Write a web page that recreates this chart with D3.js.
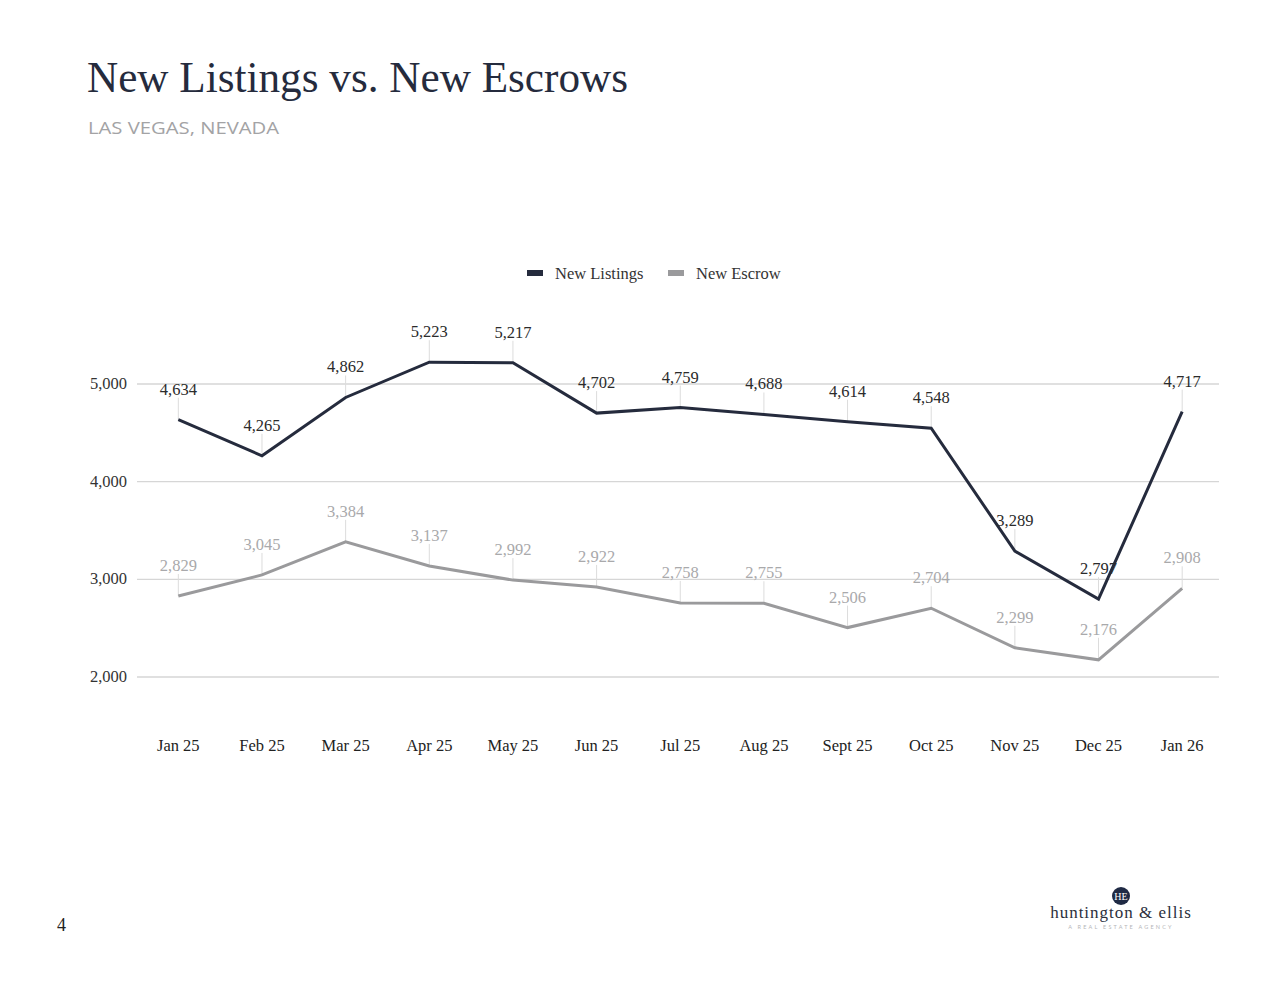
<!DOCTYPE html>
<html>
<head>
<meta charset="utf-8">
<script src="https://cdn.jsdelivr.net/npm/d3@7"></script>
<style>
  body { margin: 0; background: #fff; }
  svg { display: block; }
</style>
</head>
<body>
<div id="chart"></div>
<script>
// chart data
var months = ["Jan 25", "Feb 25", "Mar 25", "Apr 25", "May 25", "Jun 25", "Jul 25",
  "Aug 25", "Sept 25", "Oct 25", "Nov 25", "Dec 25", "Jan 26"];
var newListings = [4634, 4265, 4862, 5223, 5217, 4702, 4759, 4688, 4614, 4548, 3289, 2797, 4717];
var newEscrow = [2829, 3045, 3384, 3137, 2992, 2922, 2758, 2755, 2506, 2704, 2299, 2176, 2908];
var yTicks = [2000, 3000, 4000, 5000];

var width = 1280, height = 989;
var navy = "#252b3d", gray = "#9a9a9c";
var serif = "'Liberation Serif', 'DejaVu Serif', serif";

var svg = d3.select("#chart").append("svg")
  .attr("width", width)
  .attr("height", height);

// title
svg.append("text")
  .attr("x", 87).attr("y", 92)
  .attr("font-family", serif)
  .attr("font-size", 44)
  .attr("textLength", 541)
  .attr("lengthAdjust", "spacingAndGlyphs")
  .attr("fill", navy)
  .text("New Listings vs. New Escrows");

svg.append("text")
  .attr("x", 88).attr("y", 134)
  .attr("font-family", "'Open Sans', Lato, sans-serif")
  .attr("font-size", 17)
  .attr("textLength", 191)
  .attr("lengthAdjust", "spacingAndGlyphs")
  .attr("fill", "#a3a3a5")
  .text("LAS VEGAS, NEVADA");

// scales
var x = d3.scalePoint()
  .domain(months)
  .range([136.5, 1224])
  .padding(0.5);

var y = d3.scaleLinear()
  .domain([2000, 5000])
  .range([677, 384]);

// grid + y labels
var grid = svg.append("g");
grid.selectAll("line")
  .data(yTicks)
  .enter().append("line")
  .attr("x1", 137).attr("x2", 1219)
  .attr("y1", d => y(d)).attr("y2", d => y(d))
  .attr("stroke", "#d6d6d6")
  .attr("stroke-width", 1.3);

grid.selectAll("text")
  .data(yTicks)
  .enter().append("text")
  .attr("x", 127)
  .attr("y", d => y(d) + 5)
  .attr("text-anchor", "end")
  .attr("font-family", serif)
  .attr("font-size", 16.5)
  .attr("fill", "#333")
  .text(d => d3.format(",")(d));

// x labels
svg.append("g").selectAll("text")
  .data(months)
  .enter().append("text")
  .attr("x", d => x(d))
  .attr("y", 751)
  .attr("text-anchor", "middle")
  .attr("font-family", serif)
  .attr("font-size", 16.5)
  .attr("fill", "#222")
  .text(d => d);

var line = d3.line()
  .x((d, i) => x(months[i]))
  .y(d => y(d));

function drawSeries(values, color, labelColor) {
  var g = svg.append("g");
  // leader lines
  g.selectAll("line")
    .data(values)
    .enter().append("line")
    .attr("x1", (d, i) => x(months[i]))
    .attr("x2", (d, i) => x(months[i]))
    .attr("y1", d => y(d) - 22)
    .attr("y2", d => y(d))
    .attr("stroke", "#dcdcdc")
    .attr("stroke-width", 1);

  g.append("path")
    .datum(values)
    .attr("d", line)
    .attr("fill", "none")
    .attr("stroke", color)
    .attr("stroke-width", 3);

  g.selectAll("text")
    .data(values)
    .enter().append("text")
    .attr("x", (d, i) => x(months[i]))
    .attr("y", d => y(d) - 25)
    .attr("text-anchor", "middle")
    .attr("font-family", serif)
    .attr("font-size", 16.5)
    .attr("fill", labelColor)
    .text(d => d3.format(",")(d));
}

drawSeries(newEscrow, gray, "#a9a9ab");
drawSeries(newListings, navy, "#2b2b2b");

// legend
var legend = [{ name: "New Listings", color: navy, x: 527 }, { name: "New Escrow", color: gray, x: 668 }];
var lg = svg.append("g").selectAll("g")
  .data(legend)
  .enter().append("g")
  .attr("transform", d => "translate(" + d.x + ",273)");
lg.append("rect")
  .attr("x", 0).attr("y", -3)
  .attr("width", 16).attr("height", 6)
  .attr("fill", d => d.color);
lg.append("text")
  .attr("x", 28).attr("y", 6)
  .attr("font-family", serif)
  .attr("font-size", 16.5)
  .attr("fill", "#333")
  .text(d => d.name);

// page number
svg.append("text")
  .attr("x", 57).attr("y", 931)
  .attr("font-family", serif)
  .attr("font-size", 18)
  .attr("fill", "#222")
  .text("4");

// logo
var logo = svg.append("g").attr("transform", "translate(1121,0)");
logo.append("circle")
  .attr("cx", 0).attr("cy", 896).attr("r", 9)
  .attr("fill", "#1f2a44");
logo.append("text")
  .attr("x", 0).attr("y", 900)
  .attr("text-anchor", "middle")
  .attr("font-family", serif)
  .attr("font-size", 10)
  .attr("fill", "#fff")
  .text("HE");
logo.append("text")
  .attr("x", 0).attr("y", 918)
  .attr("text-anchor", "middle")
  .attr("font-family", serif)
  .attr("font-size", 17)
  .attr("letter-spacing", 1)
  .attr("fill", "#2b2f3c")
  .text("huntington & ellis");
logo.append("text")
  .attr("x", 0).attr("y", 929)
  .attr("text-anchor", "middle")
  .attr("font-family", "Lato, sans-serif")
  .attr("font-size", 5.5)
  .attr("letter-spacing", 2.2)
  .attr("fill", "#b5b5b8")
  .text("A REAL ESTATE AGENCY");
</script>
</body>
</html>
